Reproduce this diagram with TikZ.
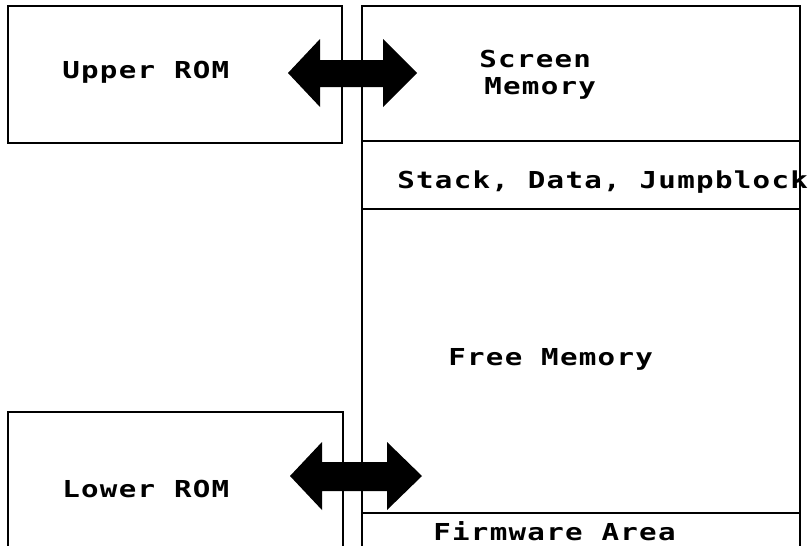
\documentclass[tikz,border=0pt]{standalone}
\usepackage{fontspec}
\newfontfamily\plotfont[FakeStretch=1.25,LetterSpace=5.5]{DejaVu Sans Mono Bold}
\begin{document}
\begin{tikzpicture}[x=0.75pt,y=-0.75pt,
  boxline/.style={line width=1.3pt,line join=miter},
  bigarrow/.style={fill=black,draw=none},
  lbl/.style={anchor=base west,inner sep=0pt,font=\plotfont\fontsize{17.5}{20}\selectfont}]
\useasboundingbox (0,0) rectangle (811,546);

% ROM blocks on the left
\draw[boxline] (8,6) rectangle (342,143);
\draw[boxline] (8,546) -- (8,412) -- (343,412) -- (343,546);

% memory map column
\draw[boxline] (362,546) -- (362,6) -- (800,6) -- (800,546);
\draw[boxline] (362,141) -- (800,141);
\draw[boxline] (362,209) -- (800,209);
\draw[boxline] (362,513) -- (800,513);

% labels
\node[lbl] (upper) at (62,78) {Upper ROM};
\node[lbl] (screen) at (479,67) {Screen};
\node[lbl] (screenb) at (484,94) {Memory};
\node[lbl] (stack) at (397,188) {Stack, Data, Jumpblock};
\node[lbl] (free) at (448,365) {Free Memory};
\node[lbl] (lower) at (62,497) {Lower ROM};
\node[lbl] (firm) at (433,540) {Firmware Area};

% ROM switching arrows
\fill[bigarrow] (288,73) -- (320,39) -- (320,60) -- (383,60) -- (383,39) -- (417,73)
  -- (383,107) -- (383,87) -- (320,87) -- (320,107) -- cycle;
\fill[bigarrow] (290,476) -- (322,442) -- (322,462) -- (387,462) -- (387,442) -- (422,476)
  -- (387,510) -- (387,491) -- (322,491) -- (322,510) -- cycle;
\end{tikzpicture}
\end{document}
